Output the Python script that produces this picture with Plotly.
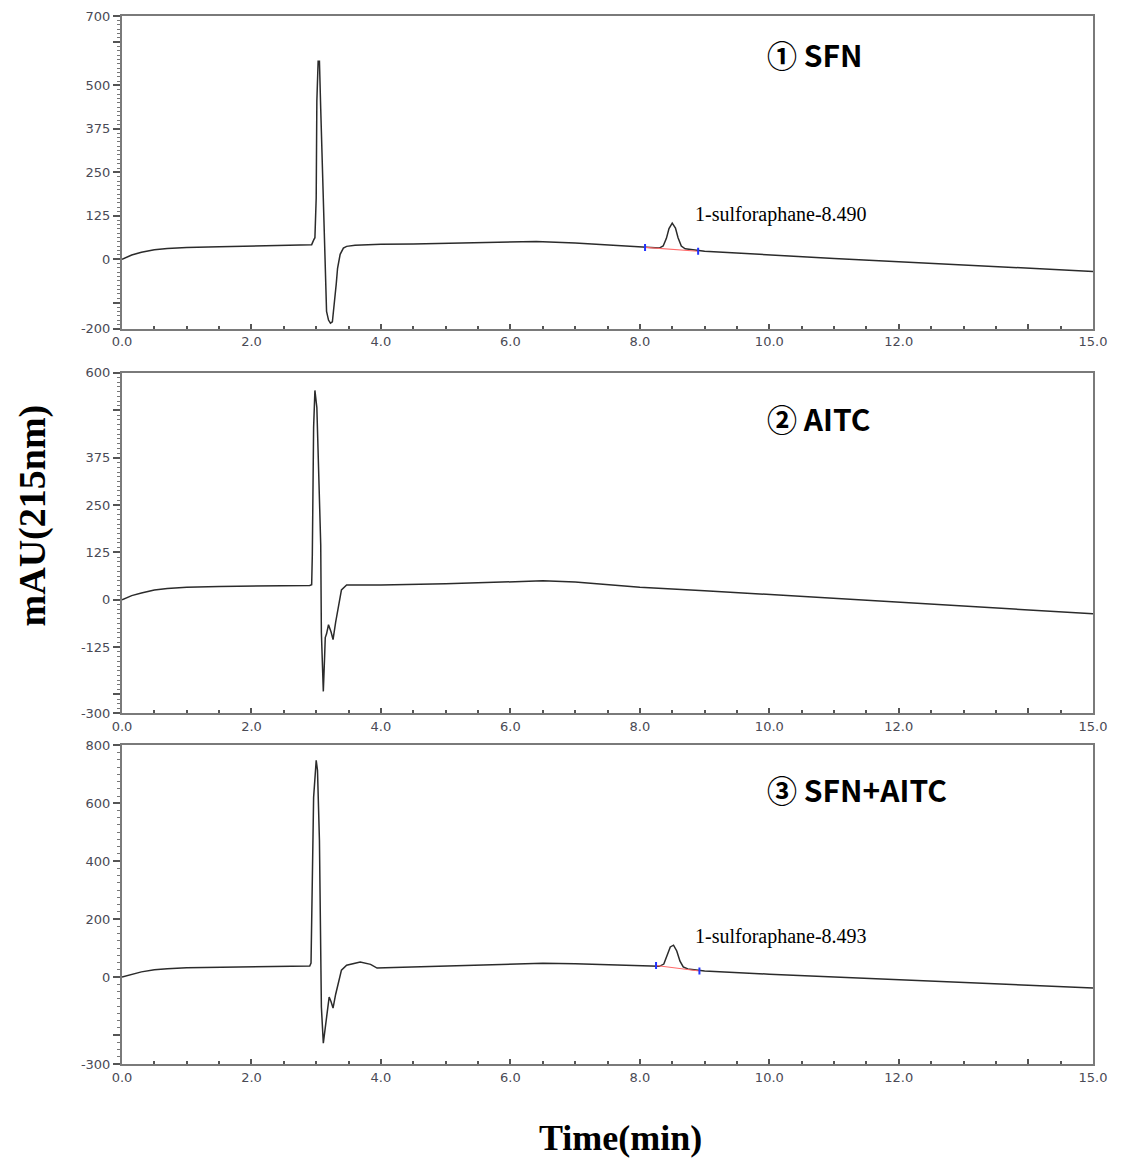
import plotly.graph_objects as go

# ---------------- data ----------------
t_sfn = [0, 0.15, 0.3, 0.5, 0.7, 1.0, 1.5, 2.0, 2.5, 2.9, 2.93, 2.96, 2.98, 3.0, 3.01, 3.03, 3.05,
         3.07, 3.1, 3.13, 3.14, 3.16, 3.19, 3.22, 3.25, 3.28, 3.31, 3.33, 3.37, 3.42, 3.47, 3.6,
         4.0, 4.5, 5.0, 5.5, 6.0, 6.4, 7.0, 7.5, 8.0, 8.3, 8.36, 8.41, 8.45, 8.5, 8.55, 8.59,
         8.64, 8.7, 9.0, 10.0, 11.0, 12.0, 13.0, 14.0, 15.0]
v_sfn = [0, 12, 20, 27, 31, 34, 36, 38, 39, 40, 42, 55, 62, 176, 455, 570, 570,
         432, 210, 32, -84, -150, -175, -184, -180, -130, -70, -26, 14, 32, 37, 40,
         43, 44, 46, 48, 50, 51, 47, 41, 35, 32, 38, 60, 88, 104, 90, 62,
         38, 30, 23, 12, 2, -7, -16, -26, -35]

t_aitc = [0, 0.15, 0.3, 0.5, 0.7, 1.0, 1.5, 2.0, 2.5, 2.9, 2.93, 2.94, 2.96, 2.98, 3.01, 3.05,
          3.07, 3.08, 3.11, 3.13, 3.14, 3.16, 3.19, 3.23, 3.26, 3.3, 3.34, 3.39, 3.47, 3.6,
          4.0, 5.0, 6.0, 6.5, 7.0, 8.0, 9.0, 10.0, 11.0, 12.0, 13.0, 14.0, 15.0]
v_aitc = [0, 11, 18, 26, 30, 33, 35, 36, 37, 38, 40, 118, 455, 553, 508, 297,
          145, -87, -242, -150, -100, -90, -66, -85, -105, -60, -18, 26, 39, 39,
          39, 42, 48, 50, 47, 33, 24, 14, 5, -5, -15, -26, -37]

t_mix = [0, 0.15, 0.3, 0.5, 0.7, 1.0, 1.5, 2.0, 2.5, 2.9, 2.92, 2.93, 2.96, 3.0, 3.02, 3.05,
         3.07, 3.08, 3.11, 3.14, 3.17, 3.2, 3.23, 3.26, 3.3, 3.34, 3.39, 3.47, 3.58, 3.68,
         3.84, 3.94, 4.2, 5.0, 6.0, 6.5, 7.0, 8.0, 8.3, 8.37, 8.42, 8.47, 8.52, 8.57, 8.62,
         8.67, 8.74, 9.0, 10.0, 11.0, 12.0, 13.0, 14.0, 15.0]
v_mix = [0, 10, 18, 25, 29, 32, 34, 36, 37, 38, 48, 207, 620, 748, 714, 472,
         169, -103, -228, -172, -110, -69, -85, -107, -60, -20, 24, 41, 48, 52,
         44, 31, 33, 38, 45, 48, 46, 40, 37, 45, 75, 104, 110, 90, 55,
         35, 28, 21, 10, 1, -9, -19, -28, -38]

# integration baselines (start, end) per labelled peak
base_sfn_t = [8.08, 8.90]
base_sfn_v = [34, 23]
base_mix_t = [8.25, 8.92]
base_mix_v = [40, 21]

panel_titles = ["① SFN", "② AITC", "③ SFN+AITC"]
peak_labels = ["1-sulforaphane-8.490", "1-sulforaphane-8.493"]

y_ranges = [[-200, 700], [-300, 600], [-300, 800]]
y_tickvals = [[700, 625, 500, 375, 250, 125, 0, -125, -200],
              [600, 500, 375, 250, 125, 0, -125, -250, -300],
              [800, 600, 400, 200, 0, -200, -300]]
y_ticktext = [["700", "", "500", "375", "250", "125", "0", "", "-200"],
              ["600", "", "375", "250", "125", "0", "-125", "", "-300"],
              ["800", "600", "400", "200", "0", "", "-300"]]
y_minor = [12.5, 12.5, 25]

x_tickvals = [0, 2, 4, 6, 8, 10, 12, 14, 15]
x_ticktext = ["0.0", "2.0", "4.0", "6.0", "8.0", "10.0", "12.0", "", "15.0"]

# ---------------- figure ----------------
W, H = 1126, 1164
ML, MR, MT, MB = 114, 41, 1, 108
domains = [[0.7016, 1.0], [0.3346, 0.6597], [0.0, 0.3041]]

LINE = "#2b2b2b"
AX = "#7a7a7a"
TICKFONT = dict(family="DejaVu Sans", size=13, color="#4a4a55")

fig = go.Figure()
series = [(t_sfn, v_sfn), (t_aitc, v_aitc), (t_mix, v_mix)]
for i, (tt, vv) in enumerate(series):
    xa = "x" if i == 0 else f"x{i+1}"
    ya = "y" if i == 0 else f"y{i+1}"
    fig.add_trace(go.Scatter(x=tt, y=vv, mode="lines", xaxis=xa, yaxis=ya,
                             line=dict(color=LINE, width=1.5), showlegend=False,
                             hoverinfo="skip"))

for bt, bv, xa, ya in [(base_sfn_t, base_sfn_v, "x", "y"), (base_mix_t, base_mix_v, "x3", "y3")]:
    fig.add_trace(go.Scatter(x=bt, y=bv, mode="lines", xaxis=xa, yaxis=ya,
                             line=dict(color="#ff6a6a", width=1.2), showlegend=False,
                             hoverinfo="skip"))
    fig.add_trace(go.Scatter(x=bt, y=bv, mode="markers", xaxis=xa, yaxis=ya,
                             marker=dict(symbol="line-ns", size=5,
                                         line=dict(color="#2233ff", width=2)),
                             showlegend=False, hoverinfo="skip"))

layout = dict(width=W, height=H, margin=dict(l=ML, r=MR, t=MT, b=MB),
              paper_bgcolor="white", plot_bgcolor="white", showlegend=False)

for i in range(3):
    xk = "xaxis" if i == 0 else f"xaxis{i+1}"
    yk = "yaxis" if i == 0 else f"yaxis{i+1}"
    ya = "y" if i == 0 else f"y{i+1}"
    xa = "x" if i == 0 else f"x{i+1}"
    layout[xk] = dict(domain=[0, 1], anchor=ya, range=[0, 15], tickmode="array",
                      tickvals=x_tickvals, ticktext=x_ticktext, ticks="inside",
                      ticklen=5, tickwidth=1.5, tickcolor="#555",
                      minor=dict(dtick=0.5, tick0=0, ticks="inside", ticklen=3,
                                 tickcolor="#555", tickwidth=1.5),
                      showline=True, linecolor=AX, linewidth=2, mirror=True,
                      showgrid=False, zeroline=False, tickfont=TICKFONT)
    layout[yk] = dict(domain=domains[i], anchor=xa, range=y_ranges[i], tickmode="array",
                      tickvals=y_tickvals[i], ticktext=y_ticktext[i], ticks="outside",
                      ticklen=7, tickwidth=1.5, tickcolor="#555",
                      minor=dict(dtick=y_minor[i], tick0=0, ticks="outside", ticklen=3,
                                 tickcolor="#777", tickwidth=1),
                      showline=True, linecolor=AX, linewidth=2, mirror=True,
                      showgrid=False, zeroline=False, tickfont=TICKFONT)

fig.update_layout(**layout)

# panel titles
title_pos = [(9.93, 590), (9.93, 480), (9.93, 650)]
for i, (tx, ty) in enumerate(title_pos):
    xa = "x" if i == 0 else f"x{i+1}"
    ya = "y" if i == 0 else f"y{i+1}"
    fig.add_annotation(x=tx, y=ty, xref=xa, yref=ya, text=panel_titles[i],
                       showarrow=False, xanchor="left", yanchor="middle",
                       font=dict(family="Noto Sans CJK KR", size=30, color="black", weight="bold"))

# peak labels
for lbl, (xa, ya, tx, ty) in zip(peak_labels, [("x", "y", 8.82, 130), ("x3", "y3", 8.82, 141)]):
    fig.add_annotation(x=tx, y=ty, xref=xa, yref=ya, text=lbl, showarrow=False,
                       xanchor="left", yanchor="middle",
                       font=dict(family="Liberation Serif", size=20, color="black"))

# axis titles
fig.add_annotation(x=-0.0917, y=0.5234, xref="paper", yref="paper", text="<b>mAU(215nm)</b>",
                   textangle=-90, showarrow=False, xanchor="center", yanchor="middle",
                   font=dict(family="Liberation Serif", size=38, color="black"))
fig.add_annotation(x=0.513, y=-0.0705, xref="paper", yref="paper", text="<b>Time(min)</b>",
                   showarrow=False, xanchor="center", yanchor="middle",
                   font=dict(family="Liberation Serif", size=36, color="black"))

fig.write_html("out.html")
